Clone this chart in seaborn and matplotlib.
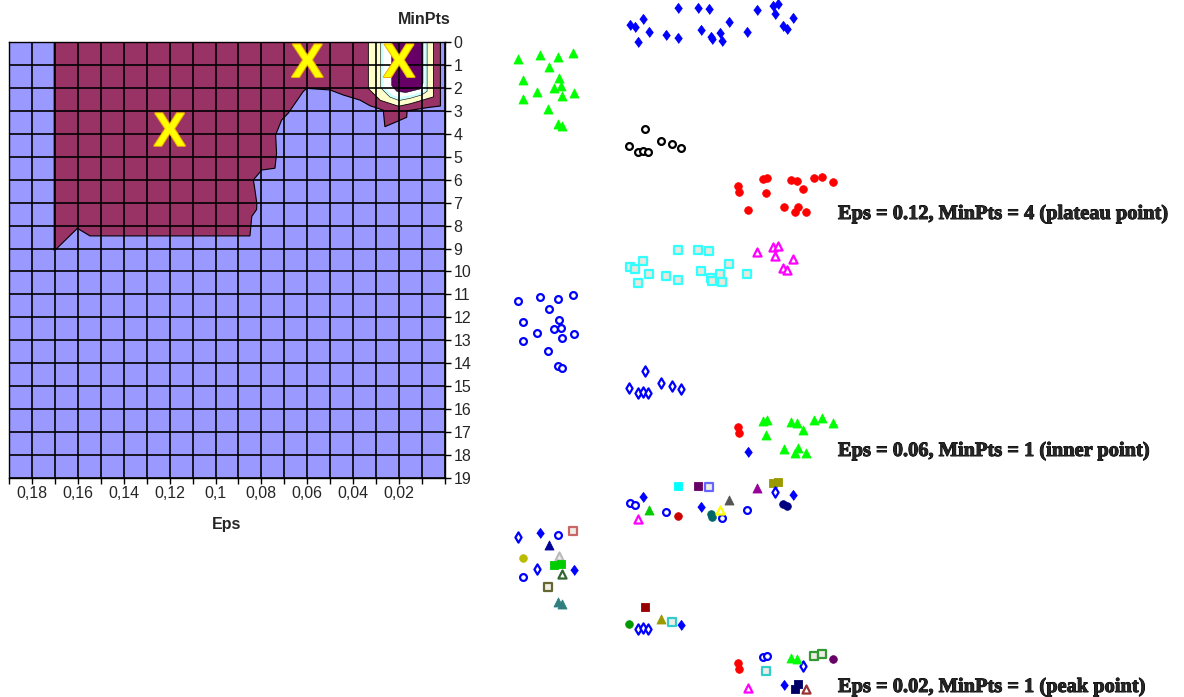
import matplotlib
matplotlib.use("Agg")
from matplotlib import pyplot as plt
from matplotlib.font_manager import FontProperties
import matplotlib.patheffects as pe
import seaborn as sns

sns.set_style("white")
plt.rcParams['font.family'] = ['Liberation Sans', 'DejaVu Sans']

# ---- left chart: contour regions over (Eps, MinPts)
maroon_eps = [0.1703, 0.1703, 0.1707, 0.1695, 0.1602, 0.1547, 0.085, 0.0842, 0.0821, 0.082,
              0.0828, 0.0835, 0.0799, 0.0741, 0.0734, 0.0738, 0.0712, 0.0683, 0.0618, 0.0603,
              0.0501, 0.0443, 0.0371, 0.0326, 0.0269, 0.0262, 0.021, 0.0167, 0.0165, 0.007,
              0.002, 0.002]
maroon_minpts = [0, 9.0, 9.06, 9.03, 8.12, 8.45, 8.45, 7.6, 7.3, 7.04,
                 6.46, 6.01, 5.58, 5.5, 4.86, 4.05, 3.4, 3.1, 2.16, 2.02,
                 2.09, 2.31, 2.53, 2.78, 2.97, 3.69, 3.47, 3.28, 3.0, 2.85,
                 2.79, 0]
yellow_eps = [0.0334, 0.0334, 0.0282, 0.0202, 0.0151, 0.010, 0.005, 0.005]
yellow_minpts = [0, 2.03, 2.54, 2.8, 2.69, 2.54, 2.39, 0]
cyan_eps = [0.028, 0.028, 0.024, 0.020, 0.015, 0.010, 0.0078, 0.0078]
cyan_minpts = [0, 2.0, 2.4, 2.55, 2.45, 2.3, 2.15, 0]
white_eps = [0.0268, 0.0268, 0.023, 0.020, 0.015, 0.009, 0.009]
white_minpts = [0, 1.95, 2.3, 2.4, 2.32, 2.15, 0]
purple_eps = [0.0232, 0.0232, 0.021, 0.017, 0.011, 0.0096, 0.0096]
purple_minpts = [0, 1.9, 2.15, 2.2, 2.05, 1.8, 0]

peak_eps = [0.12, 0.06, 0.02]
peak_minpts = [4, 1, 1]

eps_labels = ["0,18", "0,16", "0,14", "0,12", "0,1", "0,08", "0,06", "0,04", "0,02"]
eps_label_pos = [0.18, 0.16, 0.14, 0.12, 0.10, 0.08, 0.06, 0.04, 0.02]

# ---- right charts: same point set, three clusterings
pt_x = [130, 135, 142.7, 149, 138.3, 165.7, 178.3, 178.3, 197.7, 209.3, 200.7, 210.7,
        211.7, 220, 222.3, 229, 246.7, 256.7, 273.3, 278.3, 275, 282.7, 287.3, 292.7,
        18.3, 40, 58.3, 72.7, 49.3, 23.3, 59.3, 60.7, 54.3, 36.7, 74, 62, 23.3, 47.7, 58.3, 62.3,
        145, 129, 138.3, 143.3, 147.7, 161, 172.3, 181,
        237.7, 239, 248.3, 263.3, 267.3, 265.7, 291, 296.7, 303.3, 314, 322.3, 333.3,
        284, 298.3, 294.7, 305.7]
pt_y = [195, 192.7, 200.7, 187.7, 178.3, 185.3, 181.7, 211.7, 211.7, 211, 190.3, 183.3,
        180.7, 187.3, 179.3, 198, 187.7, 209.7, 214.3, 216, 206, 194, 191.3, 202.3,
        160.7, 165, 162.7, 166.7, 152.7, 140, 141.7, 134, 132.3, 128.3, 127.3, 124, 121, 111, 95.7, 94,
        91, 74, 68.3, 69.3, 68.3, 79, 75.7, 72.3,
        34.3, 28.3, 10, 40.7, 41.7, 26.7, 40, 38.7, 31.3, 41.7, 43.3, 38.3,
        12.7, 13.3, 8.3, 8.3]

labels_plateau = ["blue_d"] * 24 + ["green_t"] * 16 + ["black_oo"] * 8 + ["red_o"] * 16
labels_inner = (["cyan_os"] * 17 + ["magenta_ot"] * 7 + ["blue_oo"] * 16 + ["blue_od"] * 8
                + ["red_o", "red_o", "blue_d"] + ["green_t"] * 13)
labels_peak = ["blue_oo", "blue_oo", "blue_d", "green2_t", "magenta_ot", "blue_oo", "darkred_o",
               "cyan_s", "plum_s", "blue_os", "blue_d", "teal_o", "teal_o", "yellow_ot", "blue_oo",
               "gray_t", "blue_oo", "purple_t", "olive_s", "olive_s", "blue_od", "navy_o", "navy_o",
               "blue_d",
               "blue_od", "blue_d", "blue_oo", "rose_os", "navy_t", "mustard_o", "silver_ot",
               "green3_s", "green3_s", "blue_od", "blue_d", "dkgreen_ot", "blue_oo", "khaki_os",
               "teal_t", "teal_t",
               "maroon_s", "green4_o", "blue_od", "blue_od", "blue_od", "olive_t", "aqua_os", "blue_d",
               "red_o", "red_o", "magenta_ot", "blue_oo", "blue_oo", "aqua_os", "green_t", "green_t",
               "blue_od", "green_os", "green_os", "plum_o", "blue_d", "navy_s", "navy_s", "brown_ot"]

panel_titles = ["Eps = 0.12, MinPts = 4 (plateau point)",
                "Eps = 0.06, MinPts = 1 (inner point)",
                "Eps = 0.02, MinPts = 1 (peak point)"]

# marker, face, edge
fat_diamond = [(-0.75, 0), (0, 1), (0.75, 0), (0, -1)]
styles = {
    "blue_d": (fat_diamond, "#0000FF", "#0000FF"),
    "blue_od": ("d", "white", "#0000FF"),
    "blue_oo": ("o", "white", "#0000FF"),
    "green_t": ("^", "#00FF00", "#00FF00"),
    "black_oo": ("o", "white", "black"),
    "red_o": ("o", "#FF0000", "#FF0000"),
    "cyan_os": ("s", "#E8E8DC", "#33FFFF"),
    "magenta_ot": ("^", "white", "#FF00FF"),
    "green2_t": ("^", "#00CC00", "#00CC00"),
    "darkred_o": ("o", "#CC0000", "#CC0000"),
    "cyan_s": ("s", "#00FFFF", "#00FFFF"),
    "plum_s": ("s", "#660066", "#660066"),
    "blue_os": ("s", "#EEEEE6", "#6666FF"),
    "teal_o": ("o", "#006666", "#006666"),
    "yellow_ot": ("^", "white", "#FFFF00"),
    "gray_t": ("^", "#555555", "#555555"),
    "purple_t": ("^", "#990099", "#990099"),
    "olive_s": ("s", "#999900", "#999900"),
    "navy_o": ("o", "#000080", "#000080"),
    "rose_os": ("s", "#EEEEE6", "#CC6666"),
    "navy_t": ("^", "#000099", "#000099"),
    "mustard_o": ("o", "#BBBB00", "#BBBB00"),
    "silver_ot": ("^", "#EEEEEE", "#BBBBBB"),
    "green3_s": ("s", "#00CC00", "#00CC00"),
    "dkgreen_ot": ("^", "white", "#336633"),
    "khaki_os": ("s", "#EEEEE6", "#666633"),
    "teal_t": ("^", "#2F7F7F", "#2F7F7F"),
    "maroon_s": ("s", "#990000", "#990000"),
    "green4_o": ("o", "#009900", "#009900"),
    "olive_t": ("^", "#999900", "#999900"),
    "aqua_os": ("s", "#EEEEE6", "#33CCCC"),
    "green_os": ("s", "#EEEEE6", "#339933"),
    "plum_o": ("o", "#660066", "#660066"),
    "navy_s": ("s", "#000066", "#000066"),
    "brown_ot": ("^", "white", "#993333"),
}
marker_size = {"fat": 52, "d": 34, "o": 30, "^": 42, "s": 36}

W, H = 1184, 697
fig = plt.figure(figsize=(W / 100, H / 100), dpi=100)

# left contour chart
ax = fig.add_axes([9 / W, 1 - 478 / H, 436 / W, 436 / H])
ax.set_facecolor("#9999FF")
ax.fill(maroon_eps, maroon_minpts, facecolor="#993366", edgecolor="black", lw=0.8)
ax.fill(yellow_eps, yellow_minpts, facecolor="#FFFFCC", edgecolor="black", lw=0.6)
ax.fill(cyan_eps, cyan_minpts, facecolor="#CCFFFF", edgecolor="black", lw=0.4)
ax.fill(white_eps, white_minpts, facecolor="white", edgecolor="none")
ax.fill(purple_eps, purple_minpts, facecolor="#660066", edgecolor="black", lw=0.4)
for e, m in zip(peak_eps, peak_minpts):
    ax.text(e, m, "X", color="#FFFF00", fontsize=34, fontweight="bold", ha="center",
            va="center", zorder=5,
            path_effects=[pe.withStroke(linewidth=1.5, foreground="#F0B000")])

ax.set_xlim(0.19, 0.0)
ax.set_ylim(19, 0)
ax.set_xticks(eps_label_pos)
ax.set_xticklabels(eps_labels)
ax.set_xticks([round(0.01 * i, 2) for i in range(20)], minor=True)
ax.set_yticks(range(20))
ax.yaxis.tick_right()
ax.tick_params(which="both", direction="out", length=4, width=1, color="black",
               labelsize=11.5, pad=2, bottom=True, right=True, left=False)
ax.grid(which="both", color="black", lw=1.2)
ax.set_axisbelow(False)
for s in ax.spines.values():
    s.set_color("black")
    s.set_linewidth(1)
ax.set_xlabel("Eps", fontsize=11.5, fontweight="bold", labelpad=11)
fig.text(424 / W, 1 - 20 / H, "MinPts", fontsize=11.5, fontweight="bold",
         ha="center", va="center")

# right scatter panels
title_font = FontProperties(family="Liberation Serif", weight="bold", size=14.7)
offsets = [0, 241.7, 477.7]
title_y = [214, 451, 687]
panel_labels = [labels_plateau, labels_inner, labels_peak]
for off, ty, labs, title in zip(offsets, title_y, panel_labels, panel_titles):
    pax = fig.add_axes([500 / W, 1 - (off + 220) / H, 340 / W, 220 / H])
    for name in dict.fromkeys(labs):
        idx = [i for i, l in enumerate(labs) if l == name]
        mk, fc, ec = styles[name]
        is_open = fc != ec
        key = mk if isinstance(mk, str) else "fat"
        sns.scatterplot(x=[pt_x[i] for i in idx], y=[pt_y[i] for i in idx], ax=pax,
                        marker=mk, s=marker_size[key] * (0.8 if is_open else 1),
                        color=fc, edgecolor=ec, linewidth=1.6 if is_open else 0.6,
                        clip_on=False, legend=False)
    pax.set_xlim(0, 340)
    pax.set_ylim(0, 220)
    pax.axis("off")
    fig.text(838 / W, 1 - ty / H, title, fontproperties=title_font, ha="left", va="center",
             path_effects=[pe.withStroke(linewidth=0.7, foreground="black")])

fig.savefig("out.png", dpi=100)
